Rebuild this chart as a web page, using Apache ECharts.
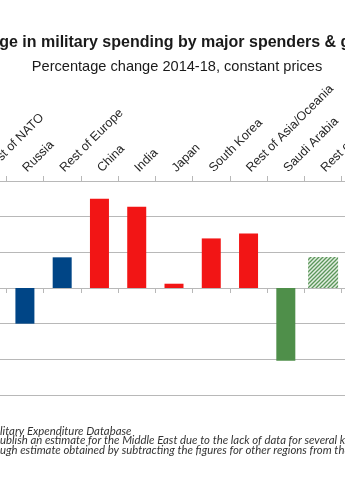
<!DOCTYPE html>
<html><head><meta charset="utf-8">
<script src="https://cdn.jsdelivr.net/npm/echarts@6/dist/echarts.min.js"></script>
<style>html,body{margin:0;padding:0;background:#fff}#c{width:345px;height:488px}</style>
</head><body><div id="c"></div>
<script>
// ---- data ----
const categories = ['Rest of NATO','Russia','Rest of Europe','China','India','Japan','South Korea','Rest of Asia/Oceania','Saudi Arabia','Rest of Middle East',''];
const regionOf   = ['Europe','Europe','Europe','Asia','Asia','Asia','Asia','Asia','MiddleEast','MiddleEast',''];
const changeValues   = [null, -10, 8.6, 25, 22.8, 1.2, 13.9, 15.3, -20.4, null, null];
const estimateValues = [null, null, null, null, null, null, null, null, null, 8.7, null];
const yTicks = [-30, -20, -10, 0, 10, 20, 30];
const titleText = 'Change in military spending by major spenders & groups';
const subtitleText = 'Percentage change 2014-18, constant prices';
const notes = [
  ['Source: SIPRI Mi', 'litary Expenditure Database'],
  ['Note: SIPRI does not p', 'ublish an estimate for the Middle East due to the lack of data for several key countries.'],
  ['The Rest of Middle East figure is a ro', 'ugh estimate obtained by subtracting the figures for other regions from the world total.']
];

// ---- styles ----
const regionColor = {Europe:'#004586', Asia:'#f21515', MiddleEast:'#4f8f4a', '':'#999'};
const gridColor = '#b8b8b8';

const pc = document.createElement('canvas'); pc.width = 4; pc.height = 4;
const p = pc.getContext('2d');
p.fillStyle = '#e3eee1'; p.fillRect(0,0,4,4);
p.strokeStyle = '#5b965a'; p.lineWidth = 1.3;
p.beginPath();
p.moveTo(-1,5); p.lineTo(5,-1);
p.moveTo(-1,1); p.lineTo(1,-1);
p.moveTo(3,5); p.lineTo(5,3);
p.stroke();

const mc = document.createElement('canvas').getContext('2d');
function widthOf(s, font){ mc.font = font; return mc.measureText(s).width; }

// fit note font so the visible part of line 2 spans the picture width
const refNoteW = widthOf('ublish an estimate for the Middle East due to the lack of data for several ', 'italic 10px Lato');
const noteSize = 10 * 340 / refNoteW;
const noteFont = 'italic ' + noteSize.toFixed(2) + 'px Lato';
const noteBaselines = [434.5, 444, 453.5];
const graphics = [
  {type:'text', style:{text:titleText, x:177, y:42.4, textAlign:'center', textVerticalAlign:'middle',
    font:'bold 16px "Liberation Sans"', fill:'#1a1a1a'}},
  {type:'text', style:{text:subtitleText, x:177, y:67, textAlign:'center', textVerticalAlign:'middle',
    font:'14.6px "Liberation Sans"', fill:'#1a1a1a'}}
];
notes.forEach((n, i) => {
  graphics.push({type:'text', style:{text:n[0]+n[1], x:-widthOf(n[0], noteFont), y:noteBaselines[i]-3.5,
    textAlign:'left', textVerticalAlign:'middle', font:noteFont, fill:'#333'}});
});

const chart = echarts.init(document.getElementById('c'), null, {renderer:'canvas'});
chart.setOption({
  animation:false,
  backgroundColor:'#fff',
  grid:{left:-31, right:-34, top:181, bottom:93, containLabel:false, outerBoundsMode:'none'},
  xAxis:[
    {type:'category', data:categories, position:'top', boundaryGap:true,
     axisLine:{show:true, onZero:false, lineStyle:{color:gridColor}},
     axisTick:{show:true, interval:0, length:5, lineStyle:{color:gridColor}},
     axisLabel:{interval:0, rotate:-45, margin:11, fontSize:12.5, color:'#262626', fontFamily:'Liberation Sans'},
     splitLine:{show:false}},
    {type:'category', data:categories, position:'bottom', boundaryGap:true,
     axisLine:{show:true, onZero:true, lineStyle:{color:gridColor}},
     axisTick:{show:true, interval:0, length:5, lineStyle:{color:gridColor}},
     axisLabel:{show:false}, splitLine:{show:false}}
  ],
  yAxis:{type:'value', min:yTicks[0], max:yTicks[yTicks.length-1], interval:10,
    axisLine:{show:false}, axisTick:{show:false}, axisLabel:{show:false},
    splitLine:{show:true, lineStyle:{color:gridColor, width:1}}},
  series:[
    {type:'bar', xAxisIndex:0, barWidth:19,
     data:changeValues.map((v,i)=>({value:v, itemStyle:{color:regionColor[regionOf[i]]}}))},
    {type:'bar', xAxisIndex:1, barWidth:30,
     data:estimateValues, itemStyle:{color:{image:pc, repeat:'repeat'}}}
  ],
  graphic:graphics
});
</script></body></html>
